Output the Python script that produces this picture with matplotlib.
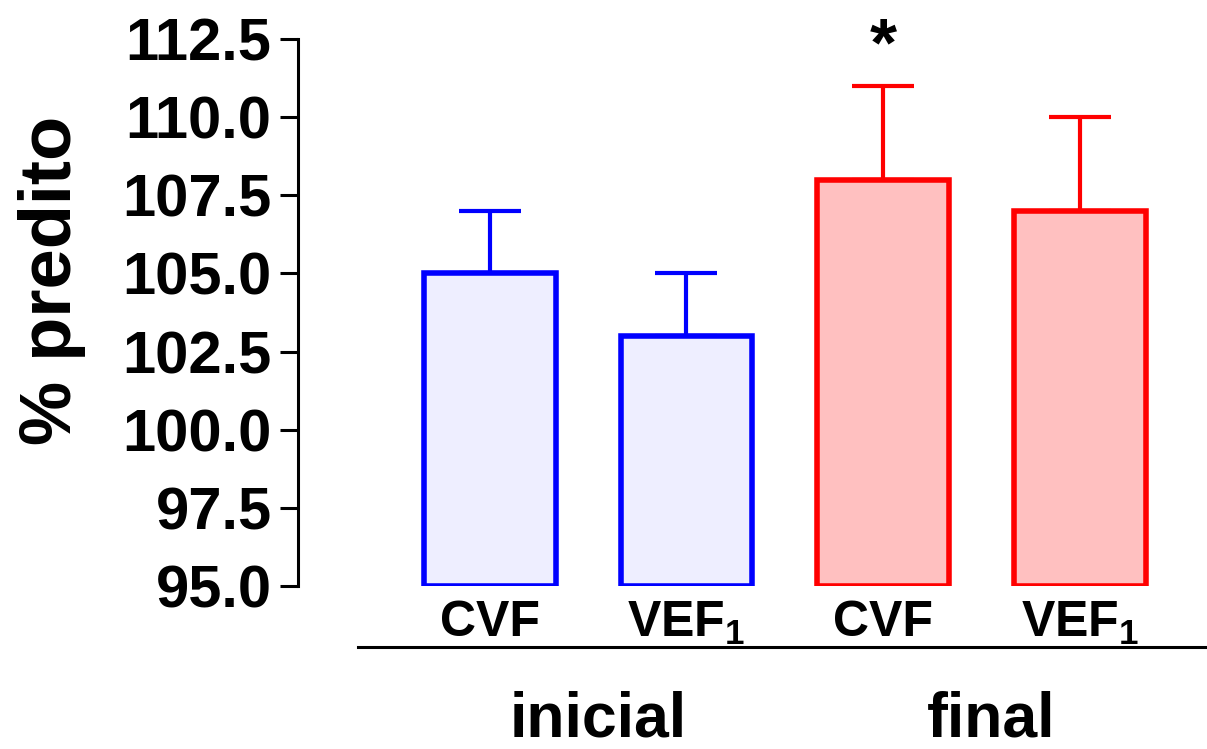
import matplotlib
matplotlib.use("Agg")
import matplotlib.pyplot as plt
from matplotlib.lines import Line2D
import numpy as np

# Data
categories = ["CVF", "VEF$_\\mathbf{1}$", "CVF", "VEF$_\\mathbf{1}$"]
groups = ["inicial", "final"]
means = [105.0, 103.0, 108.0, 107.0]
errors_up = [2.0, 2.0, 3.0, 3.0]
yticks = [95.0, 97.5, 100.0, 102.5, 105.0, 107.5, 110.0, 112.5]
edge_colors = ["#0000FF", "#0000FF", "#FF0000", "#FF0000"]
fill_colors = ["#EEEEFF", "#EEEEFF", "#FFC0C0", "#FFC0C0"]
significant = [False, False, True, False]

plt.rcParams["font.family"] = ["Liberation Sans", "DejaVu Sans"]
plt.rcParams["font.weight"] = "bold"
plt.rcParams["mathtext.fontset"] = "custom"
plt.rcParams["mathtext.rm"] = "Liberation Sans:bold"
plt.rcParams["mathtext.bf"] = "Liberation Sans:bold"
plt.rcParams["mathtext.it"] = "Liberation Sans:bold"

W, H = 1207, 749
fig = plt.figure(figsize=(W / 100, H / 100), dpi=100)
ax_left, ax_bottom, ax_top = 298, 586, 39
ax = fig.add_axes([ax_left / W, (H - ax_bottom) / H, (W - ax_left) / W, (ax_bottom - ax_top) / H])

x = np.arange(len(means))
for xi, m, e, ec, fc in zip(x, means, errors_up, edge_colors, fill_colors):
    ax.errorbar([xi], [m], yerr=[[0.0], [e]], fmt="none",
                ecolor=ec, elinewidth=3, capsize=22.5, capthick=3, zorder=1)
    ax.bar(xi, m - 95.0, bottom=95.0, width=0.67, color=fc, edgecolor=ec,
           linewidth=4, zorder=2)

for xi, m, e, s in zip(x, means, errors_up, significant):
    if s:
        ax.annotate("*", (xi, m + e), xytext=(0, 15), textcoords="offset points",
                    ha="center", va="baseline", fontsize=50, fontweight="bold",
                    annotation_clip=False)

ax.set_ylim(95.0, 112.5)
ax.set_xlim(-0.976, -0.976 + (W - ax_left) / 196.6)
ax.set_yticks(yticks)
ax.set_yticklabels([f"{t:.1f}" for t in yticks], fontsize=43, fontweight="bold")
ax.tick_params(axis="y", length=13, width=2.2, pad=6)
ax.set_xticks(x)
ax.set_xticklabels(categories, fontsize=36, fontweight="bold")
ax.tick_params(axis="x", length=0, pad=10)

for sp in ["top", "right", "bottom"]:
    ax.spines[sp].set_visible(False)
ax.spines["left"].set_linewidth(2.2)

ax.set_ylabel("% predito", fontsize=52, fontweight="bold", va="center")
ax.yaxis.set_label_coords((52 - ax_left) / (W - ax_left), (ax_bottom - 280) / (ax_bottom - ax_top))

# Baseline separator
fig.add_artist(Line2D([358 / W, 1.0], [(H - 647) / H] * 2, color="black", linewidth=2.2))

# Group labels
for gi, g in enumerate(groups):
    gx = (x[2 * gi] + x[2 * gi + 1]) / 2
    ax.annotate(g, (gx, 0), xycoords=("data", "figure fraction"),
                xytext=(7, 9), textcoords="offset points",
                ha="center", va="baseline", fontsize=45, fontweight="bold",
                annotation_clip=False)

fig.savefig("out.png", dpi=100)
